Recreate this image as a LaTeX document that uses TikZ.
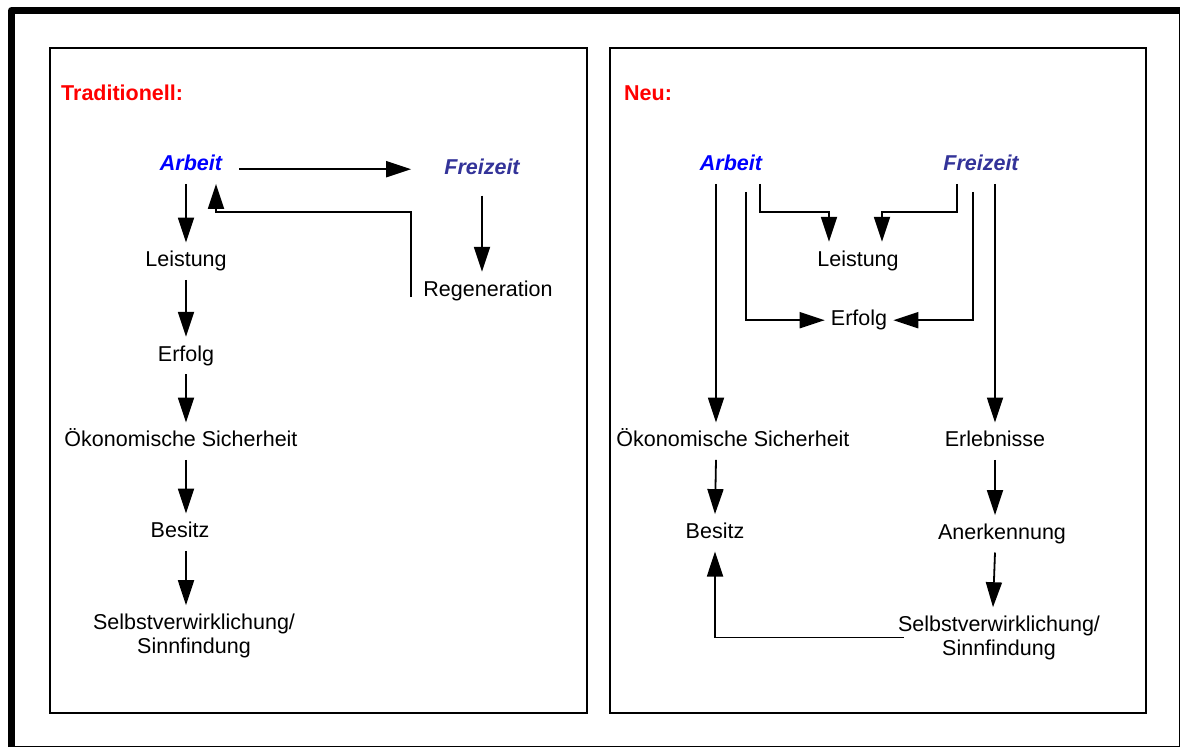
\documentclass[tikz,border=0pt]{standalone}
\usepackage{fontspec}
\setmainfont{Liberation Sans}
\usetikzlibrary{arrows.meta}

\definecolor{freeblue}{HTML}{333399}

\tikzstyle{every node}=[inner xsep=6pt, inner ysep=8pt, font=\fontsize{21.5}{24}\selectfont]
\tikzstyle{word}=[anchor=base, text height=16pt, text depth=5pt]
\tikzstyle{twolines}=[anchor=base, align=center]
\tikzstyle{head}=[anchor=base west, inner sep=0pt, text=red, font=\fontsize{21.5}{24}\selectfont\bfseries]
\tikzstyle{work}=[word, text=blue, font=\fontsize{21.5}{24}\selectfont\bfseries\itshape]
\tikzstyle{free}=[word, text=freeblue, font=\fontsize{21.5}{24}\selectfont\bfseries\itshape]
\tikzstyle{arr}=[-{Triangle[length=25pt,width=16pt]}, line width=1.8pt]
\tikzstyle{panel}=[line width=2pt]

\begin{document}
\begin{tikzpicture}[x=1pt, y=-1pt]
    \useasboundingbox (0,0) rectangle (1181,748);

    \draw[line width=7pt, line join=round] (11.5,747) -- (11.5,10.5) -- (1180,10.5);
    \draw[line width=1pt] (1179.5,10.5) -- (1179.5,746.5) -- (11.5,746.5);

    \draw[panel] (50,48) rectangle (587,713);
    \draw[panel] (610,48) rectangle (1146,713);

    \path (61,100) node[head] (tradL) {Traditionell:};
    \path (191,170.7) node[work] (arbL) {Arbeit};
    \path (482,174.3) node[free] (frzL) {Freizeit};
    \path (186,266.7) node[word] (leistL) {Leistung};
    \path (488,296) node[word] (regL) {Regeneration};
    \path (186,361) node[word] (erfL) {Erfolg};
    \path (181,446.7) node[word] (oekL) {Ökonomische Sicherheit};
    \path (180,537.7) node[word] (besL) {Besitz};
    \path (194,653) node[twolines] (selL) {Selbstverwirklichung/\\Sinnfindung};

    \path (624,100) node[head] (neuR) {Neu:};
    \path (731,170.7) node[work] (arbR) {Arbeit};
    \path (981,170.7) node[free] (frzR) {Freizeit};
    \path (858,266) node[word] (leistR) {Leistung};
    \path (859,325.7) node[word] (erfR) {Erfolg};
    \path (733,446.7) node[word] (oekR) {Ökonomische Sicherheit};
    \path (995,446.7) node[word] (erlR) {Erlebnisse};
    \path (715,538.3) node[word] (besR) {Besitz};
    \path (1002,539.3) node[word] (anR) {Anerkennung};
    \path (999,655) node[twolines] (selR) {Selbstverwirklichung/\\Sinnfindung};

    \foreach \a/\b in {arbL/leistL, leistL/erfL, erfL/oekL, oekL/besL, besL/selL}
    {
      \draw[arr] (\a.south -| leistL) -- (\b.north -| leistL);
    }
    \draw[arr, shorten <=11pt, shorten >=27pt] ([yshift=-4pt]arbL.east) -- ([yshift=-4pt]arbL.east -| frzL.west);
    \draw[arr, shorten <=8pt] (frzL.south) -- (frzL.south |- regL.north);
    \draw[arr] ([xshift=-6pt,yshift=-1pt]regL.base west) -- ++(0,-85) -| ([xshift=25pt]arbL.south);

    \draw[arr] ([xshift=-15pt]arbR.south) -- ([xshift=-15pt]arbR.south |- oekR.north);
    \draw[arr] ([xshift=15pt,yshift=-8pt]arbR.south) |- (erfR.west);
    \draw[arr] ([xshift=29pt]arbR.south) -- ++(0,28) -| ([xshift=-29pt]leistR.north);
    \draw[arr] ([xshift=-24pt]frzR.south) -- ++(0,28) -| ([xshift=24pt]leistR.north);
    \draw[arr] ([xshift=-8pt,yshift=-8pt]frzR.south) |- (erfR.east);
    \draw[arr] ([xshift=14pt]frzR.south) -- (erlR.north);
    \draw[arr] ([xshift=-17pt]oekR.south) -- (besR.north);
    \draw[arr] (erlR.south) -- (erlR.south |- anR.north);
    \draw[arr] ([xshift=-7pt]anR.south) -- ([xshift=-6pt]selR.north);
    \draw[arr] ([xshift=12pt]selR.west) -| (besR.south);
\end{tikzpicture}
\end{document}
